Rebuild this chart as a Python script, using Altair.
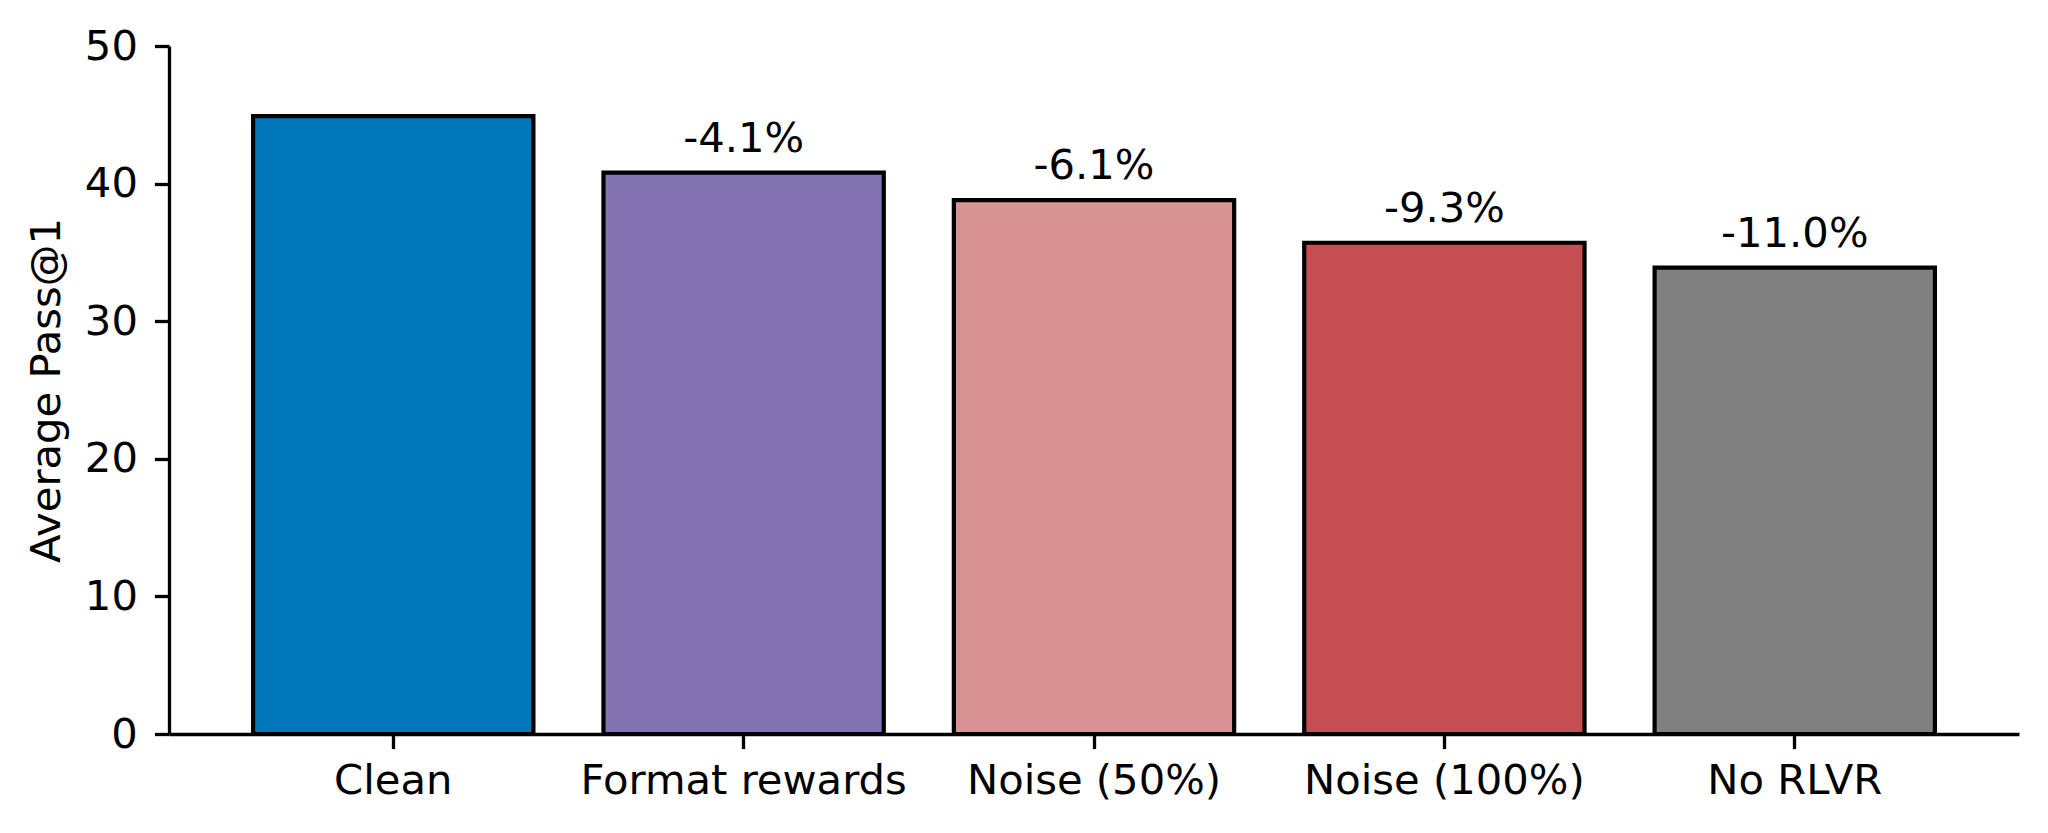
import altair as alt
import pandas as pd

categories = ["Clean", "Format rewards", "Noise (50%)", "Noise (100%)", "No RLVR"]
values = [44.9, 40.8, 38.8, 35.7, 33.9]
labels = ["", "-4.1%", "-6.1%", "-9.3%", "-11.0%"]
colors = ["#0077BB", "#8373B2", "#D99395", "#C44E52", "#808080"]

df = pd.DataFrame({"cat": categories, "val": values, "lab": labels})

FONT = "DejaVu Sans"
FS = 41.7

x = alt.X("cat:N", sort=categories, title=None,
          scale=alt.Scale(paddingInner=0.2, paddingOuter=0.24),
          axis=alt.Axis(labelAngle=0, labelFont=FONT, labelFontSize=FS, labelColor="black",
                        labelLimit=0, labelPadding=12, tickSize=14.6, tickWidth=3.3,
                        tickColor="black", domainColor="black", domainWidth=3.3, grid=False))

bars = alt.Chart(df).mark_bar(stroke="black", strokeWidth=4.2, strokeJoin="miter").encode(
    x=x,
    y=alt.Y("val:Q", title="Average Pass@1",
            scale=alt.Scale(domain=[0, 50], nice=False, zero=True),
            axis=alt.Axis(values=[0, 10, 20, 30, 40, 50], labelFont=FONT, labelFontSize=FS,
                          labelColor="black", labelPadding=17, tickSize=14.6, tickWidth=3.3,
                          tickColor="black", domainColor="black", domainWidth=3.3, grid=False,
                          titleFont=FONT, titleFontSize=FS, titleFontWeight="normal",
                          titleColor="black", titleX=-110, titleBaseline="alphabetic")),
    color=alt.Color("cat:N", sort=categories,
                    scale=alt.Scale(domain=categories, range=colors), legend=None),
)

text = alt.Chart(df).mark_text(font=FONT, fontSize=FS, color="black", baseline="alphabetic",
                               align="center", dy=-21).encode(
    x=alt.X("cat:N", sort=categories),
    y=alt.Y("val:Q"),
    text="lab:N",
)

chart = (bars + text).properties(
    width=1850, height=688,
    autosize=alt.AutoSizeParams(type="none"),
    padding={"left": 161, "top": 38, "right": 21, "bottom": 91},
    background="white",
).configure_view(strokeWidth=0, stroke=None)

chart.save("out.html", embed_options={"renderer": "svg", "actions": False})
